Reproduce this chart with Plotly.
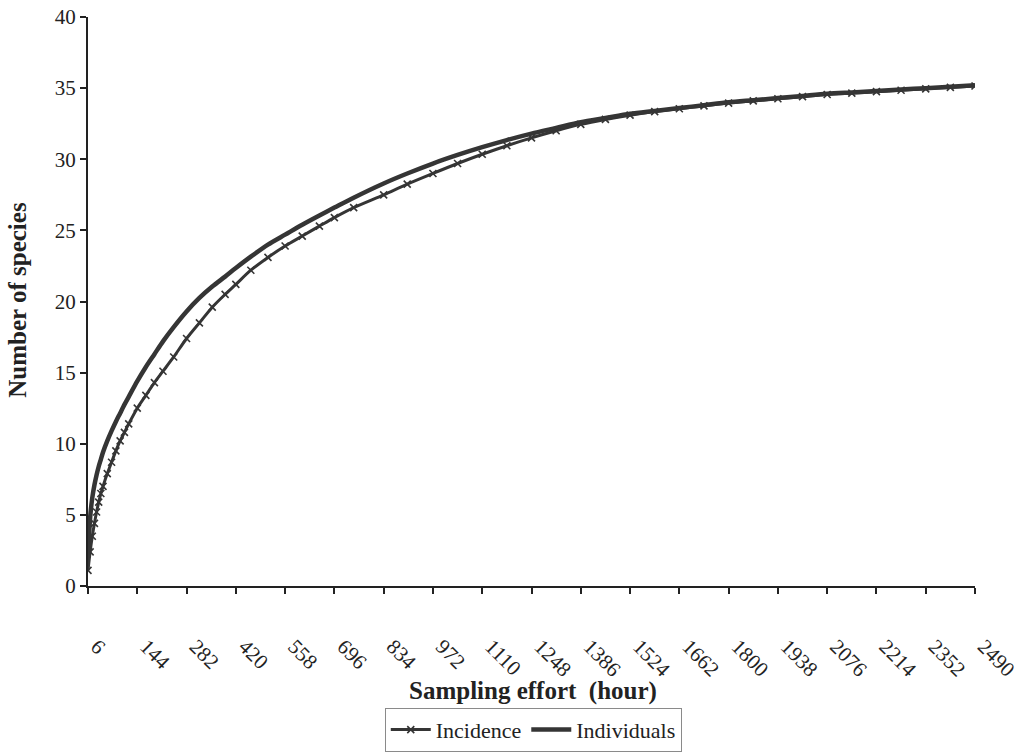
import plotly.graph_objects as go

# Sampling effort (hours) at which the accumulation curves are evaluated
effort_hours = [6, 12, 18, 24, 30, 36, 42, 48, 60, 72, 84, 96, 108, 120, 144, 168, 192, 216,
                246, 282, 318, 354, 390, 420, 462, 510, 558, 606, 654, 696, 750, 834, 900, 972,
                1041, 1110, 1179, 1248, 1317, 1386, 1455, 1524, 1593, 1662, 1731, 1800, 1869,
                1938, 2007, 2076, 2145, 2214, 2283, 2352, 2421, 2490]

# Species accumulation, incidence-based
incidence = [1.1, 2.4, 3.5, 4.4, 5.2, 5.9, 6.5, 7.0, 7.9, 8.7, 9.5, 10.2, 10.8, 11.4, 12.5, 13.4,
             14.3, 15.1, 16.1, 17.4, 18.5, 19.6, 20.5, 21.2, 22.2, 23.1, 23.9, 24.6, 25.3, 25.9,
             26.6, 27.5, 28.25, 29.0, 29.7, 30.35, 30.95, 31.5, 32.0, 32.45, 32.8, 33.1, 33.35,
             33.55, 33.75, 33.95, 34.1, 34.25, 34.4, 34.55, 34.65, 34.75, 34.85, 34.95, 35.05,
             35.15]

# Species accumulation, individual-based
individuals = [2.0, 4.8, 6.2, 7.1, 7.8, 8.4, 8.9, 9.4, 10.2, 10.9, 11.55, 12.15, 12.75, 13.3,
               14.4, 15.4, 16.3, 17.2, 18.2, 19.3, 20.25, 21.05, 21.75, 22.35, 23.15, 24.0, 24.7,
               25.4, 26.05, 26.6, 27.3, 28.3, 29.0, 29.7, 30.3, 30.85, 31.35, 31.8, 32.2, 32.6,
               32.9, 33.2, 33.4, 33.6, 33.8, 34.0, 34.15, 34.3, 34.45, 34.6, 34.7, 34.8, 34.9,
               35.0, 35.1, 35.2]

x_ticks = [6, 144, 282, 420, 558, 696, 834, 972, 1110, 1248, 1386, 1524, 1662, 1800, 1938,
           2076, 2214, 2352, 2490]
y_ticks = [0, 5, 10, 15, 20, 25, 30, 35, 40]

SERIF = "Liberation Serif, Times New Roman, serif"
INK = "#353535"
AXIS = "#222222"

fig = go.Figure()
fig.add_trace(go.Scatter(
    x=effort_hours, y=incidence, name="Incidence", mode="lines+markers",
    line=dict(color=INK, width=3, shape="spline", smoothing=0.8),
    marker=dict(symbol="x-thin", size=7, line=dict(color=INK, width=1.6)),
))
fig.add_trace(go.Scatter(
    x=effort_hours, y=individuals, name="Individuals", mode="lines",
    line=dict(color=INK, width=4.5, shape="spline", smoothing=0.8),
))

fig.update_layout(
    width=1023, height=753,
    margin=dict(l=88, r=48, t=17, b=167, autoexpand=False),
    paper_bgcolor="white", plot_bgcolor="white",
    font=dict(family=SERIF, color="#222222", size=21),
    showlegend=True,
    legend=dict(
        orientation="h", xref="paper", x=0.502, xanchor="center",
        yref="container", y=0.06, yanchor="top",
        bordercolor="#8a8a8a", borderwidth=1, bgcolor="white",
        font=dict(family=SERIF, size=22, color="#222222"),
        itemwidth=40, tracegroupgap=0,
    ),
    xaxis=dict(
        range=[6, 2490], tickmode="array", tickvals=x_ticks,
        ticktext=[str(v) for v in x_ticks], tickangle=45,
        ticklabelstandoff=32, ticklabelshift=9,
        showline=True, linecolor=AXIS, linewidth=2,
        ticks="outside", ticklen=6, tickwidth=2, tickcolor=AXIS,
        showgrid=False, zeroline=False, automargin=False,
        tickfont=dict(family=SERIF, size=21),
    ),
    yaxis=dict(
        range=[0, 40], tickmode="array", tickvals=y_ticks,
        showline=True, linecolor=AXIS, linewidth=2,
        ticks="outside", ticklen=6, tickwidth=2, tickcolor=AXIS,
        showgrid=False, zeroline=False, automargin=False,
        tickfont=dict(family=SERIF, size=21),
    ),
    annotations=[
        dict(text="<b>Sampling effort  (hour)</b>", xref="paper", yref="paper",
             x=0.502, y=-0.184, xanchor="center", yanchor="middle", showarrow=False,
             font=dict(family=SERIF, size=25, color="#222222")),
        dict(text="<b>Number of species</b>", xref="paper", yref="paper",
             x=-0.079, y=0.503, xanchor="center", yanchor="middle", showarrow=False,
             textangle=-90, font=dict(family=SERIF, size=25, color="#222222")),
    ],
)

fig.write_html("out.html")
